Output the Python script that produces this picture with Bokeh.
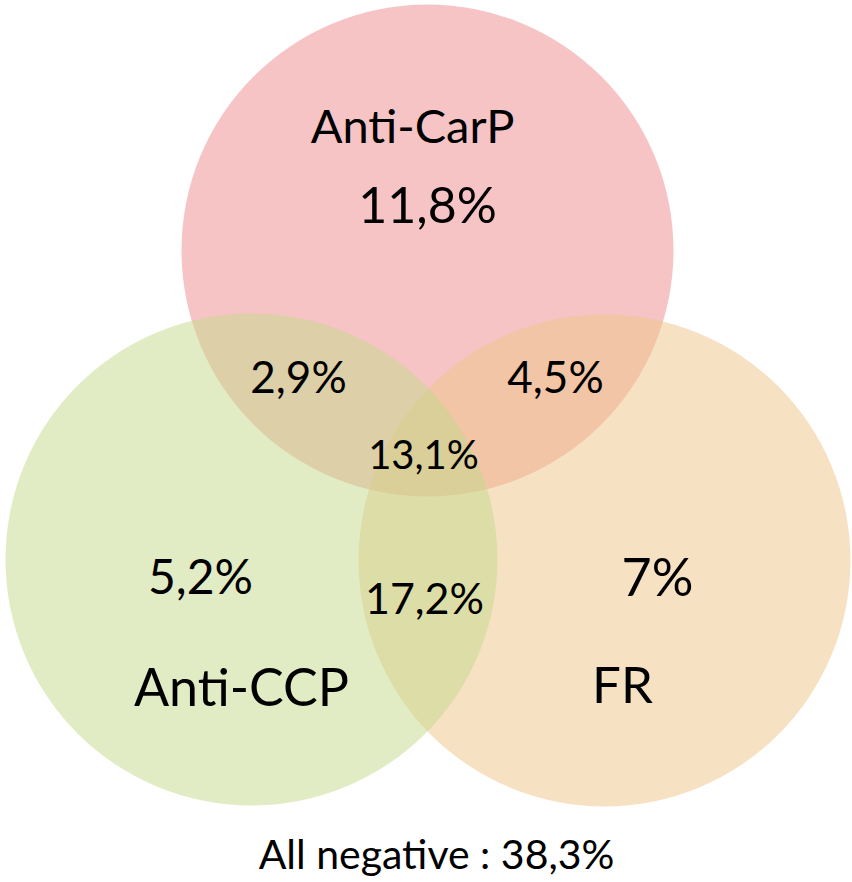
from bokeh.plotting import figure
from bokeh.models import Range1d, ColumnDataSource
from bokeh.core.properties import value
from bokeh.embed import file_html
from bokeh.resources import INLINE

# ---- data ----
set_names = ["Anti-CarP", "Anti-CCP", "FR"]
region_names = ["Anti-CarP only", "Anti-CCP only", "FR only",
                "Anti-CarP & Anti-CCP", "Anti-CarP & FR", "Anti-CCP & FR",
                "All three"]
region_pct = [11.8, 5.2, 7.0, 2.9, 4.5, 17.2, 13.1]
all_negative_pct = 38.3


def fmt(v):
    s = f"{v:.1f}".replace(".", ",")
    if s.endswith(",0"):
        s = s[:-2]
    return s + "%"


# ---- layout (reference pixel coordinates) ----
circle_x = [427, 251, 604]
circle_y = [250, 559, 560]
circle_r = 246
circle_fill = ["#EE8A8A", "#C4DA8C", "#EEC688"]
draw_order = [0, 2, 1]

set_label_x = [412, 241, 622]
set_label_y = [124, 685, 683]
set_label_size = ["47px", "52px", "51px"]

region_x = [427, 200, 657, 298, 555, 424, 423]
region_y = [203, 575, 575, 375, 375, 597, 453]
region_size = ["50px", "48px", "52px", "44px", "44px", "43px", "40px"]

FONT = value("Lato")

p = figure(width=852, height=882, output_backend="svg", toolbar_location=None,
           x_range=Range1d(0, 852), y_range=Range1d(882, 0),
           x_axis_type=None, y_axis_type=None, min_border=0)
p.outline_line_color = None
p.grid.visible = False
p.background_fill_color = "white"
p.border_fill_color = "white"

for i in draw_order:
    src = ColumnDataSource(dict(x=[circle_x[i]], y=[circle_y[i]], name=[set_names[i]]))
    p.circle(x="x", y="y", radius=circle_r, source=src,
             fill_color=circle_fill[i], fill_alpha=0.5, line_color=None)

src_sets = ColumnDataSource(dict(x=set_label_x, y=set_label_y, text=set_names,
                                 size=set_label_size))
p.text(x="x", y="y", text="text", source=src_sets, text_font=FONT,
       text_font_size="size", text_align="center", text_baseline="alphabetic",
       text_color="black")

src_regions = ColumnDataSource(dict(x=region_x, y=region_y,
                                    text=[fmt(v) for v in region_pct],
                                    size=region_size))
p.text(x="x", y="y", text="text", source=src_regions, text_font=FONT,
       text_font_size="size", text_align="center", text_baseline="alphabetic",
       text_color="black")

p.text(x=[436], y=[853], text=["All negative : " + fmt(all_negative_pct)],
       text_font=FONT, text_font_size="41px", text_align="center",
       text_baseline="alphabetic", text_color="black")

open("out.html", "w").write(file_html(p, INLINE))
